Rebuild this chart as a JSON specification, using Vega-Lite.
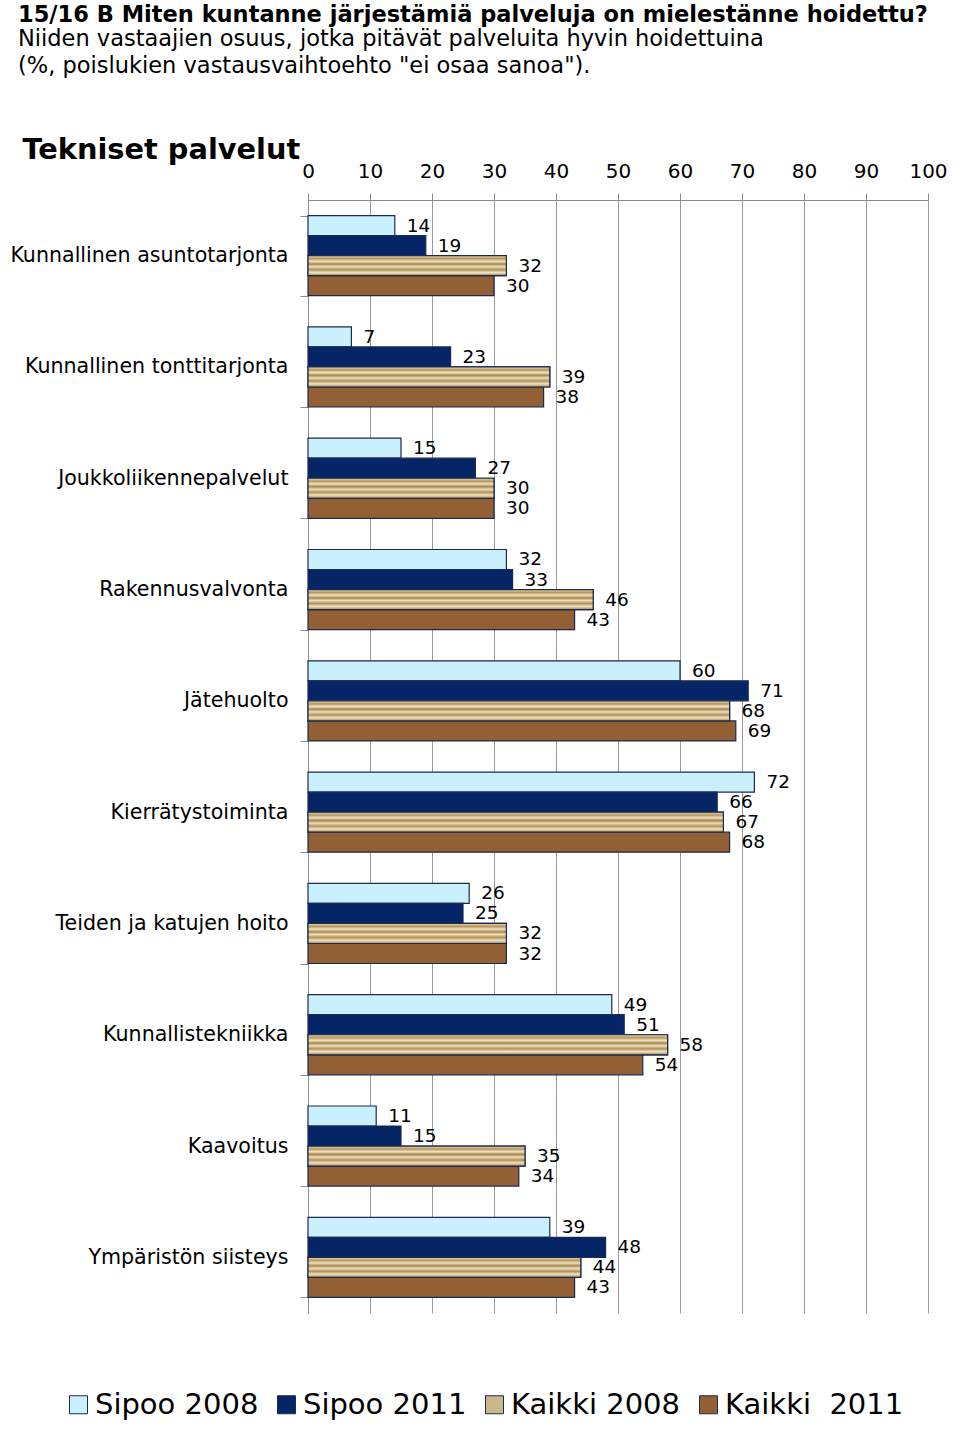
{
  "$schema": "https://vega.github.io/schema/vega-lite/v6.json",
  "width": 620,
  "height": 1113,
  "autosize": {"type": "none"},
  "padding": {"left": 308, "top": 200, "right": 32, "bottom": 131},
  "background": "white",
  "title": {
    "text": "15/16 B Miten kuntanne järjestämiä palveluja on mielestänne hoidettu?",
    "subtitle": ["Niiden vastaajien osuus, jotka pitävät palveluita hyvin hoidettuina", "(%, poislukien vastausvaihtoehto \"ei osaa sanoa\")."],
    "anchor": "start",
    "frame": "group",
    "dx": -290,
    "offset": 58,
    "font": "DejaVu Sans",
    "fontSize": 22.5,
    "fontWeight": "bold",
    "color": "#000000",
    "subtitleFont": "DejaVu Sans",
    "subtitleFontSize": 22.5,
    "subtitleColor": "#000000",
    "subtitleLineHeight": 27,
    "subtitlePadding": 1
  },
  "config": {"view": {"stroke": null}},
  "data": {
    "values": [
      {"palvelu": "Kunnallinen asuntotarjonta", "sarja": "Sipoo 2008", "arvo": 14},
      {"palvelu": "Kunnallinen asuntotarjonta", "sarja": "Sipoo 2011", "arvo": 19},
      {"palvelu": "Kunnallinen asuntotarjonta", "sarja": "Kaikki 2008", "arvo": 32},
      {"palvelu": "Kunnallinen asuntotarjonta", "sarja": "Kaikki  2011", "arvo": 30},
      {"palvelu": "Kunnallinen tonttitarjonta", "sarja": "Sipoo 2008", "arvo": 7},
      {"palvelu": "Kunnallinen tonttitarjonta", "sarja": "Sipoo 2011", "arvo": 23},
      {"palvelu": "Kunnallinen tonttitarjonta", "sarja": "Kaikki 2008", "arvo": 39},
      {"palvelu": "Kunnallinen tonttitarjonta", "sarja": "Kaikki  2011", "arvo": 38},
      {"palvelu": "Joukkoliikennepalvelut", "sarja": "Sipoo 2008", "arvo": 15},
      {"palvelu": "Joukkoliikennepalvelut", "sarja": "Sipoo 2011", "arvo": 27},
      {"palvelu": "Joukkoliikennepalvelut", "sarja": "Kaikki 2008", "arvo": 30},
      {"palvelu": "Joukkoliikennepalvelut", "sarja": "Kaikki  2011", "arvo": 30},
      {"palvelu": "Rakennusvalvonta", "sarja": "Sipoo 2008", "arvo": 32},
      {"palvelu": "Rakennusvalvonta", "sarja": "Sipoo 2011", "arvo": 33},
      {"palvelu": "Rakennusvalvonta", "sarja": "Kaikki 2008", "arvo": 46},
      {"palvelu": "Rakennusvalvonta", "sarja": "Kaikki  2011", "arvo": 43},
      {"palvelu": "Jätehuolto", "sarja": "Sipoo 2008", "arvo": 60},
      {"palvelu": "Jätehuolto", "sarja": "Sipoo 2011", "arvo": 71},
      {"palvelu": "Jätehuolto", "sarja": "Kaikki 2008", "arvo": 68},
      {"palvelu": "Jätehuolto", "sarja": "Kaikki  2011", "arvo": 69},
      {"palvelu": "Kierrätystoiminta", "sarja": "Sipoo 2008", "arvo": 72},
      {"palvelu": "Kierrätystoiminta", "sarja": "Sipoo 2011", "arvo": 66},
      {"palvelu": "Kierrätystoiminta", "sarja": "Kaikki 2008", "arvo": 67},
      {"palvelu": "Kierrätystoiminta", "sarja": "Kaikki  2011", "arvo": 68},
      {"palvelu": "Teiden ja katujen hoito", "sarja": "Sipoo 2008", "arvo": 26},
      {"palvelu": "Teiden ja katujen hoito", "sarja": "Sipoo 2011", "arvo": 25},
      {"palvelu": "Teiden ja katujen hoito", "sarja": "Kaikki 2008", "arvo": 32},
      {"palvelu": "Teiden ja katujen hoito", "sarja": "Kaikki  2011", "arvo": 32},
      {"palvelu": "Kunnallistekniikka", "sarja": "Sipoo 2008", "arvo": 49},
      {"palvelu": "Kunnallistekniikka", "sarja": "Sipoo 2011", "arvo": 51},
      {"palvelu": "Kunnallistekniikka", "sarja": "Kaikki 2008", "arvo": 58},
      {"palvelu": "Kunnallistekniikka", "sarja": "Kaikki  2011", "arvo": 54},
      {"palvelu": "Kaavoitus", "sarja": "Sipoo 2008", "arvo": 11},
      {"palvelu": "Kaavoitus", "sarja": "Sipoo 2011", "arvo": 15},
      {"palvelu": "Kaavoitus", "sarja": "Kaikki 2008", "arvo": 35},
      {"palvelu": "Kaavoitus", "sarja": "Kaikki  2011", "arvo": 34},
      {"palvelu": "Ympäristön siisteys", "sarja": "Sipoo 2008", "arvo": 39},
      {"palvelu": "Ympäristön siisteys", "sarja": "Sipoo 2011", "arvo": 48},
      {"palvelu": "Ympäristön siisteys", "sarja": "Kaikki 2008", "arvo": 44},
      {"palvelu": "Ympäristön siisteys", "sarja": "Kaikki  2011", "arvo": 43}
    ]
  },
  "encoding": {
    "y": {
      "field": "palvelu",
      "type": "nominal",
      "sort": ["Kunnallinen asuntotarjonta", "Kunnallinen tonttitarjonta", "Joukkoliikennepalvelut", "Rakennusvalvonta", "Jätehuolto", "Kierrätystoiminta", "Teiden ja katujen hoito", "Kunnallistekniikka", "Kaavoitus", "Ympäristön siisteys"],
      "scale": {"paddingInner": 0.28, "paddingOuter": 0.14},
      "axis": {
        "title": "Tekniset palvelut",
        "titleAngle": 0,
        "titleX": -286,
        "titleY": -42,
        "titleAlign": "left",
        "titleBaseline": "alphabetic",
        "titleFont": "DejaVu Sans",
        "titleFontSize": 28.8,
        "titleFontWeight": "bold",
        "titleColor": "#000000",
        "labelFont": "DejaVu Sans",
        "labelFontSize": 20.6,
        "labelColor": "#000000",
        "labelPadding": 12,
        "labelLimit": 0,
        "tickSize": 8,
        "tickBand": "extent",
        "tickColor": "#8c8c8c",
        "domainColor": "#8c8c8c"
      }
    },
    "yOffset": {
      "field": "sarja",
      "sort": ["Sipoo 2008", "Sipoo 2011", "Kaikki 2008", "Kaikki  2011"]
    },
    "x": {
      "field": "arvo",
      "type": "quantitative",
      "scale": {"domain": [0, 100]},
      "axis": {
        "orient": "top",
        "title": null,
        "values": [0, 10, 20, 30, 40, 50, 60, 70, 80, 90, 100],
        "labelFont": "DejaVu Sans",
        "labelFontSize": 20,
        "labelColor": "#000000",
        "labelFlush": false,
        "labelPadding": 12,
        "tickSize": 7,
        "tickColor": "#8c8c8c",
        "domainColor": "#8c8c8c",
        "grid": true,
        "gridColor": "#9a9a9a",
        "gridOpacity": 1
      }
    }
  },
  "layer": [
    {
      "mark": {"type": "bar", "stroke": "#1b2b4f", "strokeWidth": 1.2},
      "encoding": {
        "color": {
          "field": "sarja",
          "type": "nominal",
          "scale": {
            "domain": ["Sipoo 2008", "Sipoo 2011", "Kaikki 2008", "Kaikki  2011"],
            "range": ["#c9f0fc", "#062566", "#cbb78c", "#935f35"]
          },
          "legend": {
            "orient": "none",
            "legendX": -244,
            "legendY": 1190,
            "direction": "horizontal",
            "title": null,
            "symbolType": "square",
            "symbolSize": 324,
            "symbolStrokeColor": "#1b2b4f",
            "symbolStrokeWidth": 1,
            "labelFont": "DejaVu Sans",
            "labelFontSize": 29,
            "labelColor": "#000000",
            "labelOffset": 2,
            "labelLimit": 0,
            "columnPadding": 13,
            "labelExpr": "replace(datum.label, '  ', ' \u00a0')"
          }
        }
      }
    },
    {
      "transform": [{"filter": "datum.sarja === 'Kaikki 2008'"}],
      "mark": {
        "type": "bar",
        "stroke": "#1b2b4f",
        "strokeWidth": 1.2,
        "fill": {
          "gradient": "linear",
          "x1": 0, "y1": 0, "x2": 0, "y2": 1,
          "stops": [
            {"offset": 0.0, "color": "#e9dcb4"},
            {"offset": 0.15, "color": "#b8955c"},
            {"offset": 0.28, "color": "#efe4c2"},
            {"offset": 0.42, "color": "#a88650"},
            {"offset": 0.55, "color": "#ece0ba"},
            {"offset": 0.7, "color": "#b39058"},
            {"offset": 0.84, "color": "#efe4c2"},
            {"offset": 1.0, "color": "#a8854f"}
          ]
        }
      },
      "encoding": {}
    },
    {
      "mark": {"type": "text", "align": "left", "dx": 12, "font": "DejaVu Sans", "fontSize": 18.5, "color": "#000000"},
      "encoding": {"text": {"field": "arvo", "type": "quantitative"}}
    }
  ]
}
